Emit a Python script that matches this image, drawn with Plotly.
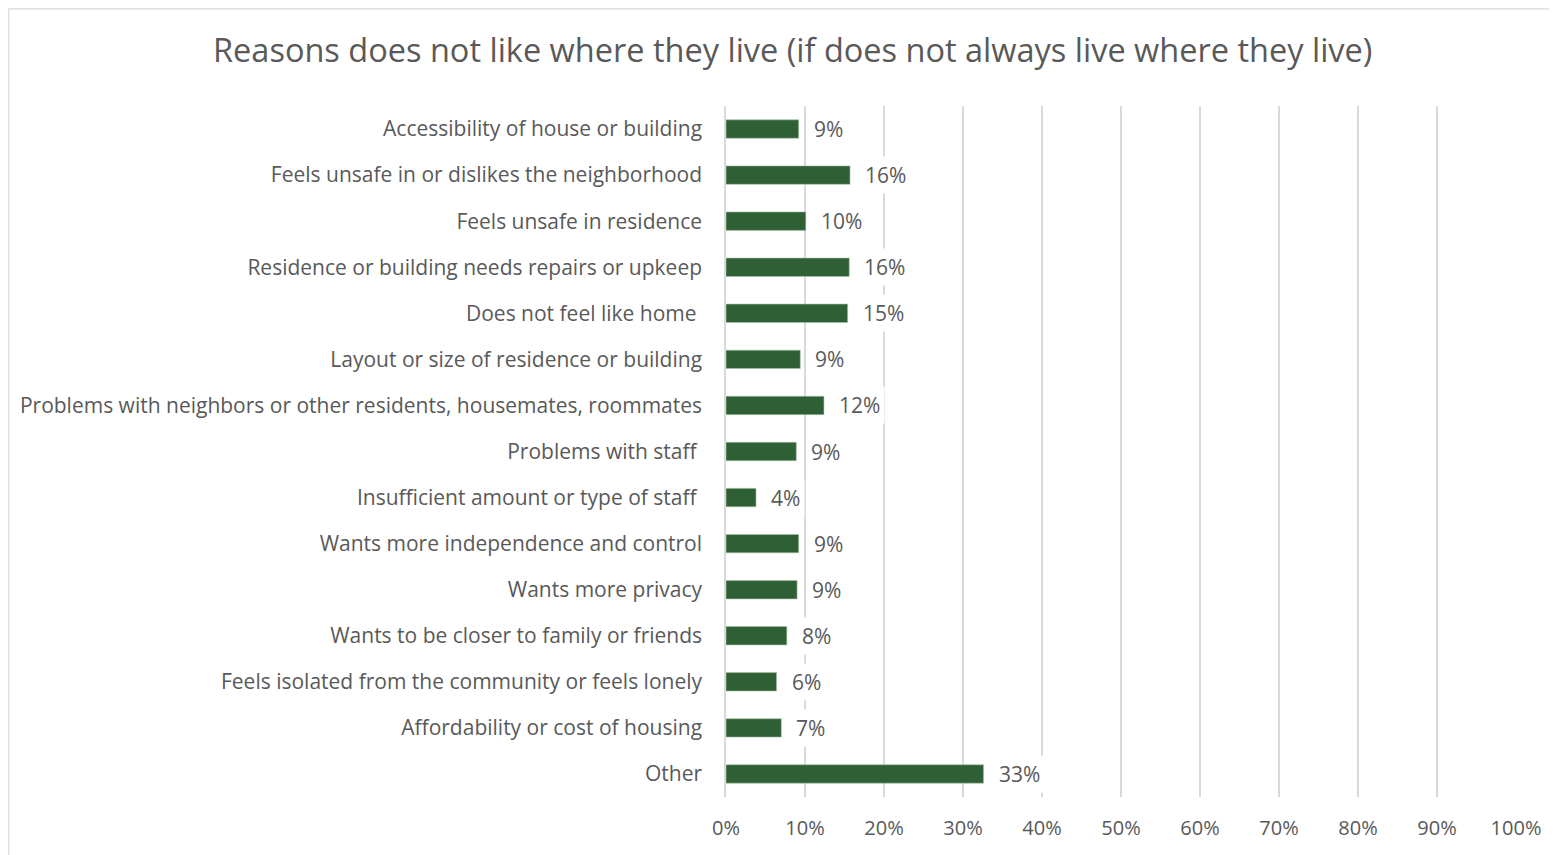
import plotly.graph_objects as go

reasons = [
    "Accessibility of house or building",
    "Feels unsafe in or dislikes the neighborhood",
    "Feels unsafe in residence",
    "Residence or building needs repairs or upkeep",
    "Does not feel like home\u00a0",
    "Layout or size of residence or building",
    "Problems with neighbors or other residents, housemates, roommates",
    "Problems with staff\u00a0",
    "Insufficient amount or type of staff\u00a0",
    "Wants more independence and control",
    "Wants more privacy",
    "Wants to be closer to family or friends",
    "Feels isolated from the community or feels lonely",
    "Affordability or cost of housing",
    "Other",
]
shares = [0.092, 0.157, 0.101, 0.156, 0.154, 0.094, 0.124, 0.089, 0.038,
          0.092, 0.090, 0.077, 0.064, 0.070, 0.326]
x_ticks = [0, 0.1, 0.2, 0.3, 0.4, 0.5, 0.6, 0.7, 0.8, 0.9, 1.0]

font = "Open Sans"
grey = "#595959"

fig = go.Figure(go.Bar(
    x=shares, y=reasons, orientation="h",
    marker=dict(color="#2F5F34", line=dict(color="#A9C4AA", width=0.6)),
    width=0.4,
))

# data labels on white boxes, they hide the gridlines behind them
for r, v in zip(reasons, shares):
    fig.add_annotation(
        x=v, y=r, text=f"{v:.0%}", showarrow=False, xanchor="left",
        xshift=10, bgcolor="white", borderpad=4,
        font=dict(family=font, size=21, color=grey),
    )

# outer chart border
fig.add_shape(type="rect", xref="paper", yref="paper",
              x0=-717.2 / 790, x1=1.07, y0=-0.2, y1=1 + 97.2 / 691,
              line=dict(color="#D9D9D9", width=1.2), layer="below")

fig.update_layout(
    width=1557, height=855,
    margin=dict(l=718, r=49, t=98, b=66),
    paper_bgcolor="white", plot_bgcolor="white",
    title=dict(
        text="Reasons does not like where they live (if does not always live where they live)",
        x=0.504, xanchor="center", y=0.95, yanchor="middle",
        font=dict(family=font, size=32.5, color=grey),
    ),
    showlegend=False,
    xaxis=dict(
        range=[0, 1.0], tickvals=x_ticks, tickformat=".0%",
        showgrid=True, gridcolor="#D9D9D9", gridwidth=1.5,
        zeroline=False, showline=False,
        ticks="outside", ticklen=13, tickcolor="rgba(0,0,0,0)",
        tickfont=dict(family=font, size=20, color=grey),
    ),
    yaxis=dict(
        autorange="reversed", showgrid=False, zeroline=False,
        showline=True, linecolor="#D9D9D9", linewidth=1.5,
        ticks="outside", ticklen=18, tickcolor="rgba(0,0,0,0)",
        tickfont=dict(family=font, size=21, color=grey),
    ),
)

fig.write_html("out.html")
